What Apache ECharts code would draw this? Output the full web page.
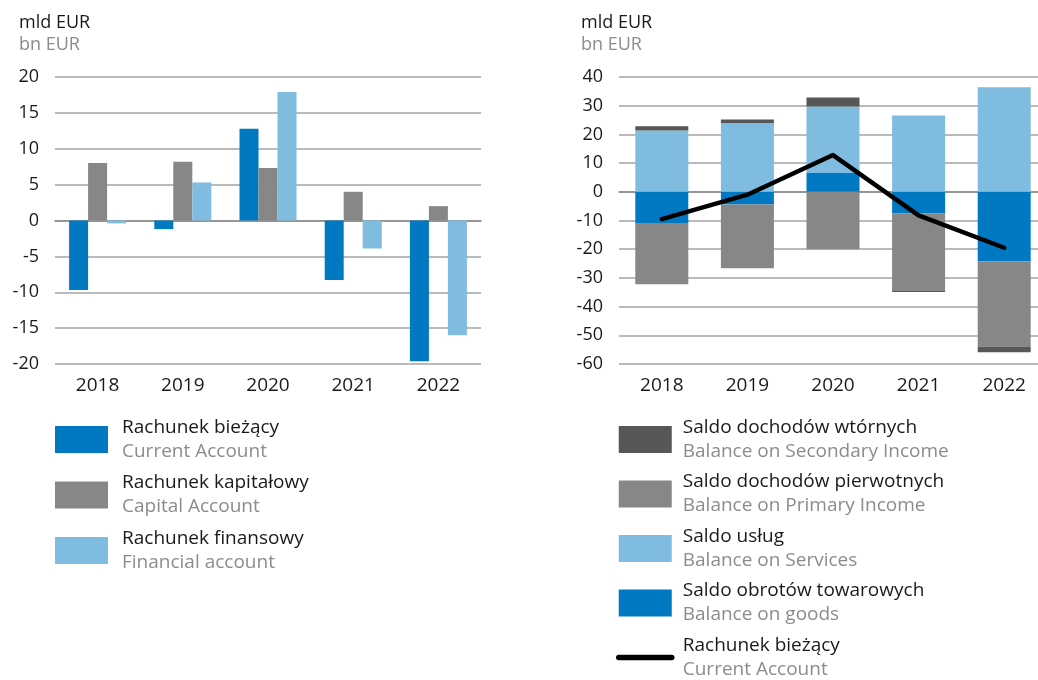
<!DOCTYPE html>
<html>
<head>
<meta charset="utf-8">
<script src="https://cdn.jsdelivr.net/npm/echarts@6/dist/echarts.min.js"></script>
<style>
  html, body { margin: 0; padding: 0; background: #fff; }
  #chart { width: 1038px; height: 680px; }
</style>
</head>
<body>
<div id="chart"></div>
<script>
// Categories
const years = ['2018', '2019', '2020', '2021', '2022'];

// Left panel: balance of payments accounts (bn EUR)
const currentAccount = [-9.7, -1.2, 12.8, -8.3, -19.6];
const capitalAccount = [8.0, 8.2, 7.3, 4.0, 2.0];
const financialAccount = [-0.4, 5.3, 17.9, -3.9, -16.0];

// Right panel: components of the current account (bn EUR)
const goodsBalance = [-10.9, -4.4, 6.7, -7.5, -24.2];
const servicesBalance = [21.4, 23.9, 23.0, 26.6, 36.4];
const primaryIncome = [-21.3, -22.2, -20.0, -27.1, -29.7];
const secondaryIncome = [1.4, 1.3, 3.2, -0.3, -2.0];
const currentAccountTotal = [-9.5, -1.0, 12.8, -8.2, -19.5];

// Legend labels: Polish name and English translation
const leftLegendPl = ['Rachunek bieżący', 'Rachunek kapitałowy', 'Rachunek finansowy'];
const leftLegendEn = ['Current Account', 'Capital Account', 'Financial account'];
const rightLegendPl = ['Saldo dochodów wtórnych', 'Saldo dochodów pierwotnych', 'Saldo usług', 'Saldo obrotów towarowych', 'Rachunek bieżący'];
const rightLegendEn = ['Balance on Secondary Income', 'Balance on Primary Income', 'Balance on Services', 'Balance on goods', 'Current Account'];
const unitPl = 'mld EUR';
const unitEn = 'bn EUR';

const FONT = 'Open Sans';
const C_DARKBLUE = '#0079c2';
const C_GRAY = '#878787';
const C_LIGHTBLUE = '#80bbe0';
const C_DARKGRAY = '#575757';

// series ids for the right panel (names must not collide with the left panel)
const rightIds = ['r_secondary', 'r_primary', 'r_services', 'r_goods', 'r_ca'];
const leftIds = ['l_ca', 'l_capital', 'l_financial'];
const labelMap = {};
leftIds.forEach((id, i) => labelMap[id] = [leftLegendPl[i], leftLegendEn[i]]);
rightIds.forEach((id, i) => labelMap[id] = [rightLegendPl[i], rightLegendEn[i]]);

const axisLabelStyle = { color: '#1a1a1a', fontFamily: FONT, fontSize: 18 };
const gridLine = { show: true, lineStyle: { color: '#a3a3a3', width: 1.5 } };

function yAxis(gridIndex, min, max, interval) {
  return {
    type: 'value', gridIndex, min, max, interval,
    axisLine: { show: false }, axisTick: { show: false },
    axisLabel: Object.assign({ margin: 16 }, axisLabelStyle),
    splitLine: gridLine
  };
}
function xAxis(gridIndex) {
  return {
    type: 'category', gridIndex, data: years,
    axisTick: { show: false },
    axisLine: { onZero: true, lineStyle: { color: '#8a8a8a', width: 1.5 } },
    axisLabel: Object.assign({ margin: 12 }, axisLabelStyle, { fontSize: 19 }),
  };
}

function legendText(padLeft) {
  return {
    fontFamily: FONT,
    padding: [0, 0, 0, padLeft],
    rich: {
      pl: { fontFamily: FONT, fontSize: 19, color: '#1a1a1a', lineHeight: 24 },
      en: { fontFamily: FONT, fontSize: 19, color: '#8c8c8c', lineHeight: 24 }
    }
  };
}
const legendFormatter = name => '{pl|' + labelMap[name][0] + '}\n{en|' + labelMap[name][1] + '}';

function unitTitle(left) {
  return {
    text: unitPl, subtext: unitEn, left, top: 9, itemGap: 4,
    textStyle: { fontFamily: FONT, fontSize: 18, fontWeight: 'normal', color: '#1a1a1a' },
    subtextStyle: { fontFamily: FONT, fontSize: 18, color: '#8c8c8c' }
  };
}

const option = {
  animation: false,
  textStyle: { fontFamily: FONT },
  title: [unitTitle(14), unitTitle(576)],
  grid: [
    { left: 55, width: 426, top: 77, height: 287, outerBoundsMode: 'none', containLabel: false },
    // the right plot runs slightly past the page edge; its gridlines are clipped there
    { left: 619, width: 428, top: 77, height: 287, outerBoundsMode: 'none', containLabel: false }
  ],
  xAxis: [xAxis(0), xAxis(1)],
  yAxis: [yAxis(0, -20, 20, 5), yAxis(1, -60, 40, 10)],
  legend: [
    { data: leftIds, orient: 'vertical', left: 55, top: 418, height: 262, padding: 0,
      itemWidth: 53, itemHeight: 27, itemGap: 12.5, icon: 'rect', selectedMode: false,
      textStyle: legendText(9), formatter: legendFormatter },
    { data: rightIds.map(id => id === 'r_ca'
        ? { name: id, itemStyle: { opacity: 0 }, lineStyle: { width: 5.5, cap: 'round', color: '#000' } }
        : { name: id, icon: 'rect' }),
      orient: 'vertical', left: 616, top: 418, height: 262, padding: 0,
      itemWidth: 53, itemHeight: 27, itemGap: 11.5, selectedMode: false,
      textStyle: legendText(6), formatter: legendFormatter }
  ],
  series: [
    { id: 'l_ca', name: 'l_ca', type: 'bar', xAxisIndex: 0, yAxisIndex: 0, data: currentAccount,
      itemStyle: { color: C_DARKBLUE }, barWidth: 19, barGap: '0%' },
    { id: 'l_capital', name: 'l_capital', type: 'bar', xAxisIndex: 0, yAxisIndex: 0, data: capitalAccount,
      itemStyle: { color: C_GRAY }, barWidth: 19, barGap: '0%' },
    { id: 'l_financial', name: 'l_financial', type: 'bar', xAxisIndex: 0, yAxisIndex: 0, data: financialAccount,
      itemStyle: { color: C_LIGHTBLUE }, barWidth: 19, barGap: '0%' },

    { id: 'r_goods', name: 'r_goods', type: 'bar', stack: 'ca', xAxisIndex: 1, yAxisIndex: 1,
      data: goodsBalance, itemStyle: { color: C_DARKBLUE }, barWidth: 53 },
    { id: 'r_services', name: 'r_services', type: 'bar', stack: 'ca', xAxisIndex: 1, yAxisIndex: 1,
      data: servicesBalance, itemStyle: { color: C_LIGHTBLUE }, barWidth: 53 },
    { id: 'r_primary', name: 'r_primary', type: 'bar', stack: 'ca', xAxisIndex: 1, yAxisIndex: 1,
      data: primaryIncome, itemStyle: { color: C_GRAY }, barWidth: 53 },
    { id: 'r_secondary', name: 'r_secondary', type: 'bar', stack: 'ca', xAxisIndex: 1, yAxisIndex: 1,
      data: secondaryIncome, itemStyle: { color: C_DARKGRAY }, barWidth: 53 },
    { id: 'r_ca', name: 'r_ca', type: 'line', xAxisIndex: 1, yAxisIndex: 1, data: currentAccountTotal,
      symbol: 'none', z: 5, itemStyle: { color: '#000' },
      lineStyle: { color: '#000', width: 4.5, cap: 'round', join: 'round' } }
  ]
};

const chart = echarts.init(document.getElementById('chart'), null, { renderer: 'canvas' });
chart.setOption(option);
</script>
</body>
</html>
